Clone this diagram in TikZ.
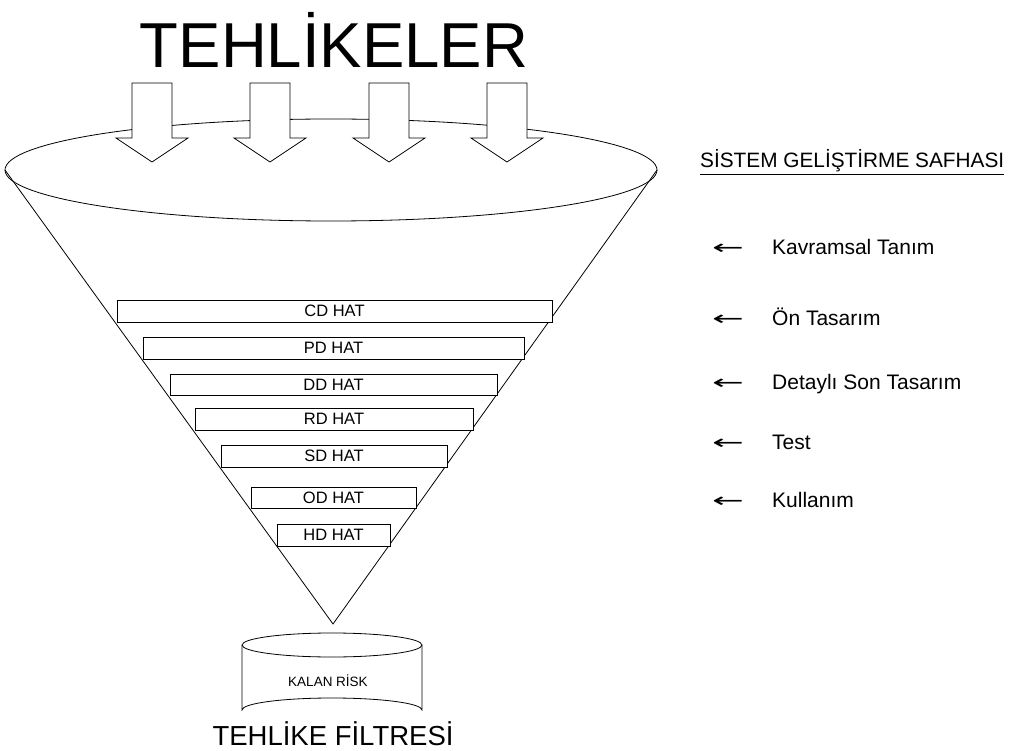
\documentclass[tikz,border=0pt]{standalone}
\usepackage{fontspec}
\setmainfont{Liberation Sans}
\newfontfamily\symfont{DejaVu Sans}
\begin{document}
\begin{tikzpicture}[x=1pt,y=-1pt,
  line/.style={draw=black,line width=0.8pt},
  hatbox/.style={draw=black,fill=white,line width=0.8pt},
  blockarrow/.style={draw=black,fill=white,line width=0.8pt,line join=miter},
  hatlabel/.style={font=\fontsize{16.5}{18}\selectfont},
  phase/.style={anchor=base west,font=\fontsize{21}{24}\selectfont},
  larrow/.style={anchor=base west,font=\symfont\fontsize{20}{24}\selectfont}]
\useasboundingbox (0,0) rectangle (1023,751);
% title
\node (title) at (334,40) {\fontsize{63.5}{70}\selectfont TEHLİKELER};
% funnel
\coordinate (L) at (5,170);
\coordinate (R) at (657,170);
\coordinate (apex) at (333,624);
\draw[line] (331,170) ellipse [x radius=326, y radius=51];
\draw[line] (L) -- (apex) -- (R);
% block arrows
\foreach \c/\n in {152/a1,270/a2,389/a3,507/a4}{
  \draw[blockarrow] (\c-20,83) -- (\c+20,83) -- (\c+20,138) -- (\c+36,138)
     -- (\c,162) -- (\c-36,138) -- (\c-20,138) -- cycle;
}
% hat boxes
\node[hatbox,hatlabel,minimum width=435,minimum height=22,inner sep=0] (cd) at (334.5,311) {CD HAT};
\node[hatbox,hatlabel,minimum width=381,minimum height=22,inner sep=0] (pd) at (333.5,348) {PD HAT};
\node[hatbox,hatlabel,minimum width=327,minimum height=21,inner sep=0] (dd) at (333.5,384.5) {DD HAT};
\node[hatbox,hatlabel,minimum width=278,minimum height=22,inner sep=0] (rd) at (334,419) {RD HAT};
\node[hatbox,hatlabel,minimum width=226,minimum height=22,inner sep=0] (sd) at (334,456) {SD HAT};
\node[hatbox,hatlabel,minimum width=165,minimum height=21,inner sep=0] (od) at (333.5,497.5) {OD HAT};
\node[hatbox,hatlabel,minimum width=113,minimum height=22,inner sep=0] (hd) at (333.5,535) {HD HAT};
% cylinder
\draw[line,fill=white] (242,645) -- (242,710) arc[start angle=180,end angle=360,x radius=90,y radius=12] -- (422,645);
\draw[line,fill=white] (332,645) ellipse [x radius=90, y radius=12];
\node (kalan) at (328,681) {\fontsize{13.5}{15}\selectfont KALAN RİSK};
\node (filtre) at (333,734) {\fontsize{27.5}{30}\selectfont TEHLİKE FİLTRESİ};
% right side
\node[anchor=base west,inner sep=0,font=\fontsize{20.8}{24}\selectfont] (phs) at (700,168) {\underline{SİSTEM GELİŞTİRME SAFHASI}};
\foreach \y/\t/\n in {255/Kavramsal Tanım/p1,326/Ön Tasarım/p2,389/Detaylı Son Tasarım/p3,449/Test/p4,507/Kullanım/p5}{
  \node[larrow,inner sep=0] (arr\n) at (712,\y) {\scalebox{1.9}[1]{←}};
  \node[phase,inner sep=0] (\n) at (772,\y) {\t};
}
\end{tikzpicture}
\end{document}
